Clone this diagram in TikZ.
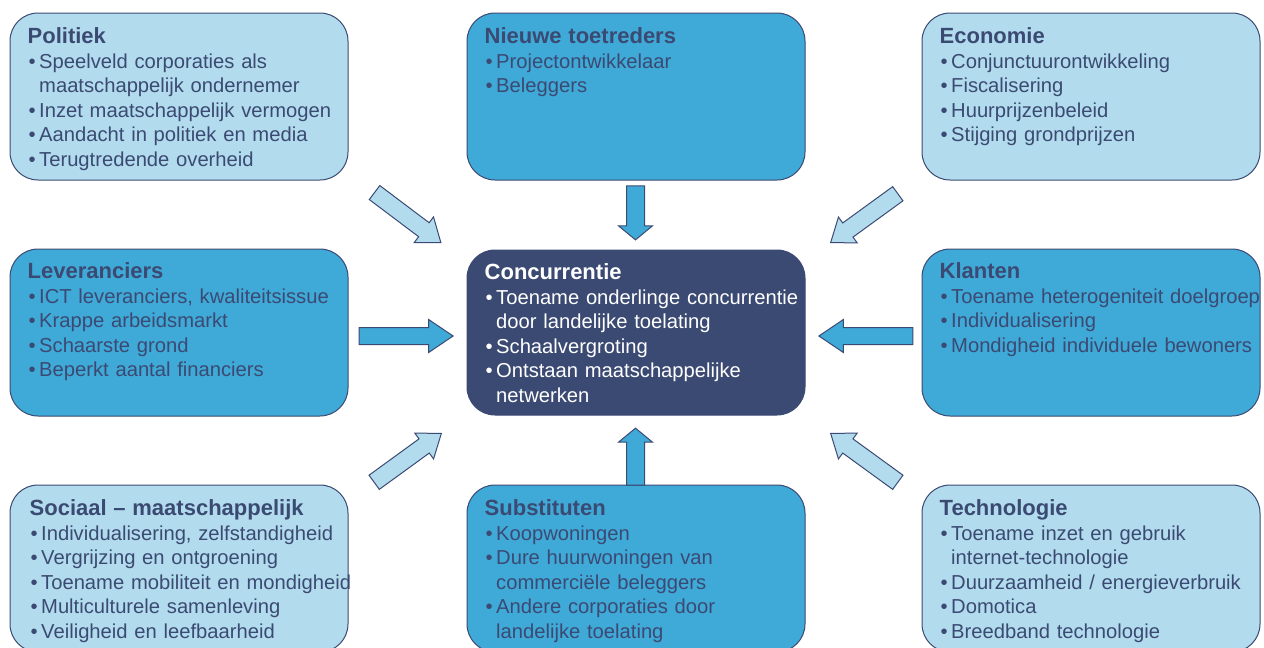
\documentclass[tikz,border=0pt]{standalone}
\usepackage{fontspec}
\setmainfont{Liberation Sans}
\usetikzlibrary{positioning,shapes.arrows}

\definecolor{navy}{HTML}{3B4A72}
\definecolor{midblue}{HTML}{3FA9D8}
\definecolor{lightblue}{HTML}{B2DCEE}

\newcommand{\kop}[1]{{\fontsize{22}{24.5}\selectfont\bfseries #1}}
\newcommand{\punt}{\par\hangindent=11.5pt\hangafter=1\noindent\hspace*{1pt}\makebox[10.5pt][l]{\textbullet}}

\tikzset{
factor/.style={draw=navy, line width=1pt, rounded corners=28pt, minimum width=338pt, minimum height=167pt, inner sep=0pt},
lite/.style={factor, fill=lightblue},
mid/.style={factor, fill=midblue},
core/.style={factor, fill=navy, minimum height=165pt},
tekst/.style={anchor=base west, inner sep=0pt, text width=360pt, align=left, text=navy, font=\fontsize{20.2}{24.5}\selectfont},
pijl/.style={single arrow, draw=navy, line width=1pt, inner xsep=0pt, single arrow head indent=0pt, anchor=tip},
schuin/.style={pijl, fill=lightblue, minimum height=83pt, inner ysep=8.25pt, single arrow head extend=7.25pt, single arrow tip angle=74},
recht/.style={pijl, fill=midblue, minimum height=94pt, inner ysep=8pt, single arrow head extend=8pt, single arrow tip angle=68},
stijl/.style={pijl, fill=midblue, inner ysep=8.5pt, single arrow head extend=8pt, single arrow tip angle=101},
}

\begin{document}
\begin{tikzpicture}[x=1pt, y=1pt, on grid]
        \useasboundingbox (0,0) rectangle (1264,-648);
        \clip (0,0) rectangle (1264,-648);

        \node[core] (conc) at (636,-332.5) {};
        \node[lite, above left=236pt and 457pt of conc] (pol) {};
        \node[mid, above=236pt of conc] (nt) {};
        \node[lite, above right=236pt and 455pt of conc] (eco) {};
        \node[mid, left=457pt of conc] (lev) {};
        \node[mid, right=455pt of conc] (kla) {};
        \node[lite, below left=236pt and 457pt of conc] (soc) {};
        \node[mid, below=236pt of conc] (sub) {};
        \node[lite, below right=236pt and 455pt of conc] (tec) {};

        \node[tekst] (pol-t) at ([shift={(18,-31)}]pol.north west) {\kop{Politiek}%
            \punt Speelveld corporaties als\newline maatschappelijk ondernemer
            \punt Inzet maatschappelijk vermogen
            \punt Aandacht in politiek en media
            \punt Terugtredende overheid\par};
        \node[tekst] (nt-t) at ([shift={(18,-31)}]nt.north west) {\kop{Nieuwe toetreders}%
            \punt Projectontwikkelaar
            \punt Beleggers\par};
        \node[tekst] (eco-t) at ([shift={(18,-31)}]eco.north west) {\kop{Economie}%
            \punt Conjunctuurontwikkeling
            \punt Fiscalisering
            \punt Huurprijzenbeleid
            \punt Stijging grondprijzen\par};
        \node[tekst] (lev-t) at ([shift={(18,-30)}]lev.north west) {\kop{Leveranciers}%
            \punt ICT leveranciers, kwaliteitsissue
            \punt Krappe arbeidsmarkt
            \punt Schaarste grond
            \punt Beperkt aantal financiers\par};
        \node[tekst, text=white] (conc-t) at ([shift={(18,-30)}]conc.north west) {\kop{Concurrentie}%
            \punt Toename onderlinge concurrentie\newline door landelijke toelating
            \punt Schaalvergroting
            \punt Ontstaan maatschappelijke\newline netwerken\par};
        \node[tekst] (kla-t) at ([shift={(18,-30)}]kla.north west) {\kop{Klanten}%
            \punt Toename heterogeniteit doelgroep
            \punt Individualisering
            \punt Mondigheid individuele bewoners\par};
        \node[tekst] (soc-t) at ([shift={(20,-31)}]soc.north west) {\kop{Sociaal -- maatschappelijk}%
            \punt Individualisering, zelfstandigheid
            \punt Vergrijzing en ontgroening
            \punt Toename mobiliteit en mondigheid
            \punt Multiculturele samenleving
            \punt Veiligheid en leefbaarheid\par};
        \node[tekst] (sub-t) at ([shift={(18,-31)}]sub.north west) {\kop{Substituten}%
            \punt Koopwoningen
            \punt Dure huurwoningen van\newline commerciële beleggers
            \punt Andere corporaties door\newline landelijke toelating\par};
        \node[tekst] (tec-t) at ([shift={(18,-31)}]tec.north west) {\kop{Technologie}%
            \punt Toename inzet en gebruik\newline internet-technologie
            \punt Duurzaamheid / energieverbruik
            \punt Domotica
            \punt Breedband technologie\par};

        \node[schuin, rotate=-37] (p-pol) at ([shift={(-25,6.5)}]conc.north west) {};
        \node[schuin, rotate=-144] (p-eco) at ([shift={(24.5,6.5)}]conc.north east) {};
        \node[schuin, rotate=36] (p-soc) at ([shift={(-24.5,-17.5)}]conc.south west) {};
        \node[schuin, rotate=144] (p-tec) at ([shift={(24.5,-17.5)}]conc.south east) {};
        \node[recht] (p-lev) at ([shift={(-12.5,-3.5)}]conc.west) {};
        \node[recht, rotate=180] (p-kla) at ([shift={(12.5,-3.5)}]conc.east) {};
        \node[stijl, minimum height=54pt, rotate=-90] (p-nt) at ([shift={(-0.5,9)}]conc.north) {};
        \node[stijl, minimum height=57pt, rotate=90] (p-sub) at ([shift={(-0.5,-12)}]conc.south) {};

    \end{tikzpicture}
\end{document}
